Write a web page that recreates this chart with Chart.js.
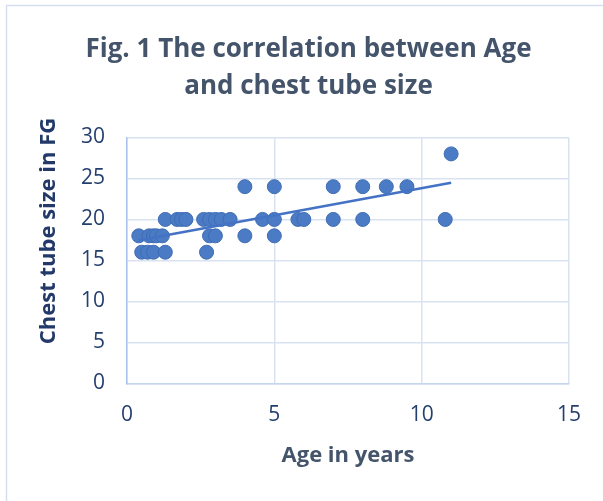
<!DOCTYPE html>
<html>
<head>
<meta charset="utf-8">
<script src="https://cdn.jsdelivr.net/npm/chart.js@4/dist/chart.umd.min.js"></script>
<style>
  body { margin: 0; background: #fff; }
  canvas { display: block; }
</style>
</head>
<body>
<canvas id="myChart" width="603" height="501"></canvas>
<script>
// age (years) and chest tube size (FG), one entry per patient
const ages = [
  0.5, 0.7, 0.9, 1.3, 2.7,
  0.4, 0.75, 0.9, 1.0, 1.2, 2.8, 3.0, 4, 5,
  1.3, 1.7, 1.85, 2.0, 2.6, 2.8, 3.0, 3.2, 3.5, 4.6, 5, 5.8, 6, 7, 8, 10.8,
  4, 5, 7, 8, 8.8, 9.5,
  11,
];
const sizes = [
  16, 16, 16, 16, 16,
  18, 18, 18, 18, 18, 18, 18, 18, 18,
  20, 20, 20, 20, 20, 20, 20, 20, 20, 20, 20, 20, 20, 20, 20, 20,
  24, 24, 24, 24, 24, 24,
  28,
];
const xTicks = [0, 5, 10, 15];
const yTicks = [0, 5, 10, 15, 20, 25, 30];

const titleLines = ["Fig. 1 The correlation between Age", "and chest tube size"];
const xTitle = "Age in years";
const yTitle = "Chest tube size in FG";

const points = ages.map((a, i) => ({ x: a, y: sizes[i] }));

// linear trendline (least squares), drawn over the data range
const n = ages.length;
const mx = ages.reduce((s, v) => s + v, 0) / n;
const my = sizes.reduce((s, v) => s + v, 0) / n;
let sxy = 0, sxx = 0;
ages.forEach((a, i) => {
  sxy += (a - mx) * (sizes[i] - my);
  sxx += (a - mx) * (a - mx);
});
const slope = sxy / sxx;
const icpt = my - slope * mx;
const xLo = Math.min(...ages), xHi = Math.max(...ages);
const trend = [
  { x: xLo, y: icpt + slope * xLo },
  { x: xHi, y: icpt + slope * xHi },
];

const font = '"Open Sans", "DejaVu Sans", sans-serif';

const frame = {
  id: "frame",
  beforeDraw(chart) {
    const c = chart.ctx;
    c.save();
    c.fillStyle = "#fff";
    c.fillRect(0, 0, chart.width, chart.height);
    c.strokeStyle = "#d5dfef";
    c.lineWidth = 1.5;
    c.strokeRect(6.5, 5.5, 800, 700);
    c.restore();
  },
  afterDraw(chart) {
    const c = chart.ctx;
    c.save();
    c.fillStyle = "#44546a";
    c.font = "bold 26px " + font;
    c.textAlign = "center";
    c.textBaseline = "alphabetic";
    c.fillText(titleLines[0], 308.5, 57);
    c.fillText(titleLines[1], 308.5, 93.5);
    // y axis title
    c.fillStyle = "#22396a";
    c.font = "bold 22px " + font;
    c.translate(55, 231);
    c.rotate(-Math.PI / 2);
    c.fillText(yTitle, 0, 0);
    c.restore();
  },
};

new Chart(document.getElementById("myChart"), {
  data: {
    datasets: [
      {
        type: "line",
        data: trend,
        borderColor: "#4472c4",
        borderWidth: 2.5,
        pointRadius: 0,
        order: 0,
      },
      {
        type: "scatter",
        data: points,
        backgroundColor: "#4a7bc4",
        borderColor: "#3f6db3",
        borderWidth: 1,
        pointRadius: 7,
        order: 1,
      },
    ],
  },
  options: {
    responsive: false,
    animation: false,
    layout: { padding: { top: 137.5, right: 34, bottom: 0, left: 0 } },
    plugins: {
      legend: { display: false },
      tooltip: { enabled: false },
    },
    scales: {
      x: {
        type: "linear",
        min: 0,
        max: 15,
        afterBuildTicks: (s) => { s.ticks = xTicks.map((v) => ({ value: v })); },
        afterFit: (s) => { s.height = 117.7; },
        grid: { color: "#d9e2f1", lineWidth: 1.5, drawTicks: false },
        border: { color: "#c5d5ee", width: 1.5 },
        ticks: { padding: 19, color: "#243f6e", font: { family: font, size: 21 } },
        title: {
          display: true,
          text: xTitle,
          color: "#44546a",
          font: { family: font, size: 22, weight: "bold" },
          padding: { top: 0, bottom: 32 },
        },
      },
      y: {
        type: "linear",
        min: 0,
        max: 30,
        afterBuildTicks: (s) => { s.ticks = yTicks.map((v) => ({ value: v })); },
        afterFit: (s) => { s.width = 127; },
        grid: { color: "#d9e2f1", lineWidth: 1.5, drawTicks: false },
        border: { color: "#a9c3ea", width: 1.5 },
        ticks: { padding: 22, color: "#243f6e", font: { family: font, size: 21 } },
      },
    },
  },
  plugins: [frame],
});
</script>
</body>
</html>
